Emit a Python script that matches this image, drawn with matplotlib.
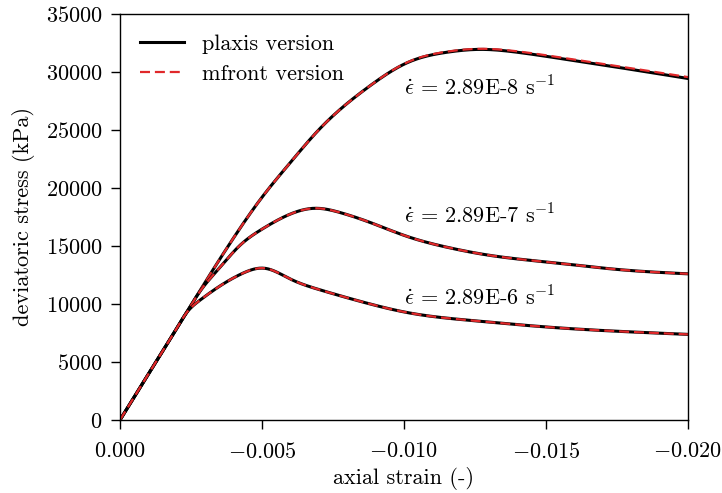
import numpy as np
import matplotlib
matplotlib.use("Agg")
import matplotlib.pyplot as plt

plt.rcParams['font.family'] = 'cmr10'
plt.rcParams['mathtext.fontset'] = 'cm'
plt.rcParams['axes.formatter.use_mathtext'] = True
plt.rcParams['font.size'] = 16

# curves (strain, deviatoric stress kPa)
strain_slow = [0.0, -0.001, -0.002, -0.003, -0.004, -0.005, -0.006, -0.00697,
               -0.00873, -0.01014, -0.0115, -0.01268, -0.014, -0.01573, -0.0178, -0.020]
stress_slow = [0, 3960, 7920, 11880, 15700, 19200, 22200, 24940,
               28680, 30830, 31700, 31950, 31700, 31080, 30300, 29440]
stress_slow_mf = [0, 3960, 7920, 11880, 15700, 19200, 22200, 24940,
                  28680, 30860, 31750, 32000, 31780, 31170, 30400, 29560]

strain_mid = [0.0, -0.001, -0.002, -0.00233, -0.00282, -0.0035, -0.0042, -0.005,
              -0.0059, -0.00685, -0.0078, -0.00873, -0.01014, -0.0115, -0.013,
              -0.0155, -0.0175, -0.020]
stress_mid = [0, 3960, 7920, 9220, 11100, 13100, 15000, 16450,
              17650, 18250, 17850, 17100, 15800, 14900, 14200,
              13500, 12980, 12600]

strain_fast = [0.0, -0.001, -0.002, -0.00233, -0.0028, -0.00345, -0.00427, -0.00509,
               -0.006, -0.007, -0.0085, -0.01014, -0.0125, -0.015, -0.0175, -0.020]
stress_fast = [0, 3960, 7920, 9200, 10300, 11440, 12590, 13080,
               12150, 11250, 10200, 9250, 8550, 8020, 7650, 7380]

rate_labels = [r'$\dot{\epsilon}\, =\, 2.89$E-8 s$^{-1}$',
               r'$\dot{\epsilon}\, =\, 2.89$E-7 s$^{-1}$',
               r'$\dot{\epsilon}\, =\, 2.89$E-6 s$^{-1}$']
label_x = [-0.0100, -0.0100, -0.0100]
label_y = [28000, 16980, 9900]


def spline(x, y, n=600):
    # natural cubic spline through the read points
    x = -np.asarray(x, dtype=float)
    y = np.asarray(y, dtype=float)
    k = len(x)
    h = np.diff(x)
    A = np.zeros((k, k))
    r = np.zeros(k)
    A[0, 0] = A[-1, -1] = 1.0
    for i in range(1, k - 1):
        A[i, i - 1] = h[i - 1]
        A[i, i] = 2 * (h[i - 1] + h[i])
        A[i, i + 1] = h[i]
        r[i] = 6 * ((y[i + 1] - y[i]) / h[i] - (y[i] - y[i - 1]) / h[i - 1])
    M = np.linalg.solve(A, r)
    xs = np.linspace(x[0], x[-1], n)
    j = np.clip(np.searchsorted(x, xs) - 1, 0, k - 2)
    a = x[j + 1] - xs
    b = xs - x[j]
    ys = (M[j] * a**3 + M[j + 1] * b**3) / (6 * h[j]) \
        + (y[j] / h[j] - M[j] * h[j] / 6) * a \
        + (y[j + 1] / h[j] - M[j + 1] * h[j] / 6) * b
    return -xs, ys


fig, ax = plt.subplots(figsize=(7.22, 4.93), dpi=100)

curves = [(strain_slow, stress_slow, stress_slow_mf),
          (strain_mid, stress_mid, stress_mid),
          (strain_fast, stress_fast, stress_fast)]

for i, (sx, sp, sm) in enumerate(curves):
    xp, yp = spline(sx, sp)
    xm, ym = spline(sx, sm)
    ax.plot(xp, yp, color='black', lw=2.2, label='plaxis version' if i == 0 else None)
    ax.plot(xm, ym, color='#e0282a', lw=1.6, ls=(0, (4.5, 2.2)),
            label='mfront version' if i == 0 else None)

for lx, ly, txt in zip(label_x, label_y, rate_labels):
    ax.text(lx, ly, txt, fontsize=16, va='baseline', ha='left')

ax.set_xlim(0.0, -0.020)
ax.set_ylim(0, 35000)
ax.set_xticks([0.0, -0.005, -0.010, -0.015, -0.020])
ax.tick_params(length=6.5, width=1.0, pad=6)
ax.tick_params(axis='x', pad=9)
for sp in ax.spines.values():
    sp.set_linewidth(1.0)
ax.set_xlabel('axial strain (-)', labelpad=4)
ax.set_ylabel('deviatoric stress (kPa)', labelpad=8)
ax.legend(loc='upper left', frameon=False, fontsize=16, handlelength=2.0,
          handletextpad=0.8, labelspacing=0.5)

plt.subplots_adjust(left=0.1662, right=0.9529, top=0.9716, bottom=0.1481)
fig.savefig('out.png', dpi=100)
